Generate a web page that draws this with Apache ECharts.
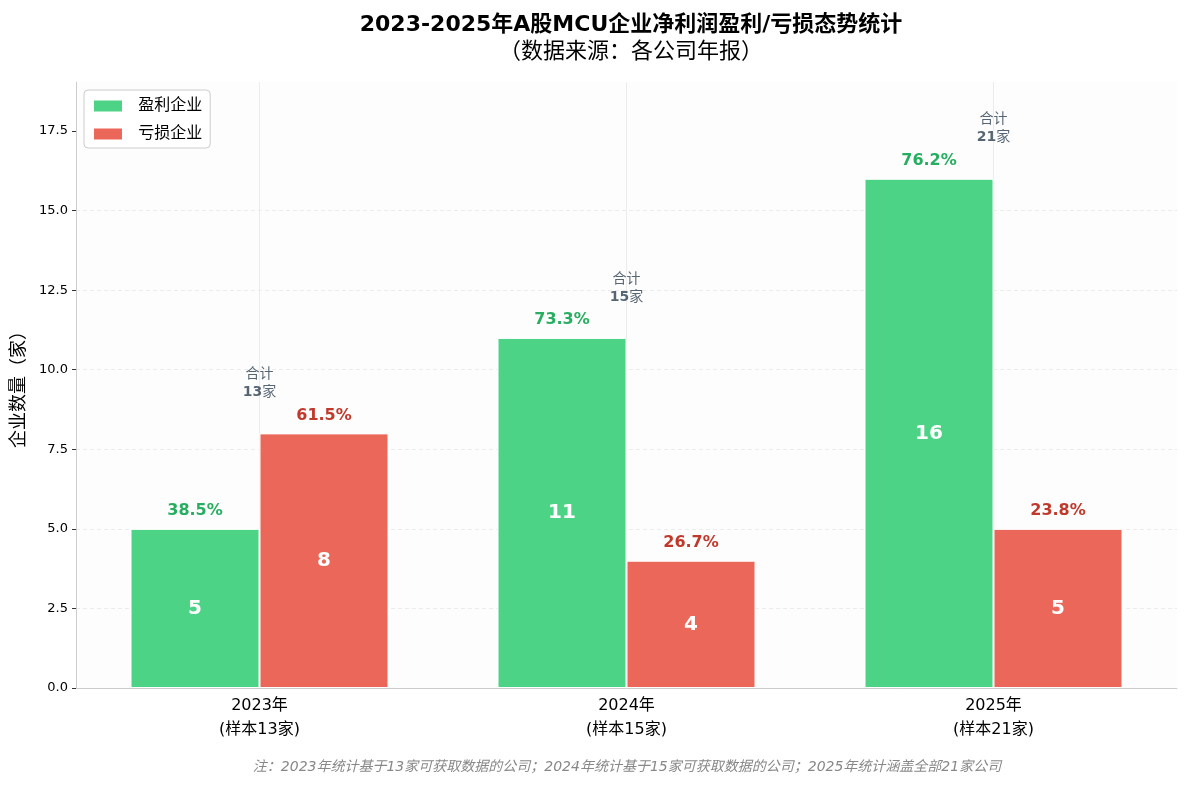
<!DOCTYPE html>
<html><head><meta charset="utf-8">
<script src="https://cdn.jsdelivr.net/npm/echarts@6/dist/echarts.min.js"></script>
<style>html,body{margin:0;padding:0;background:#fff}#c{width:1187px;height:785px}</style>
</head><body><div id="c"></div>
<script>
const years = ['2023年', '2024年', '2025年'];
const samples = [13, 15, 21];
const profitable = [5, 11, 16];
const lossMaking = [8, 4, 5];
const yTicks = [0, 2.5, 5, 7.5, 10, 12.5, 15, 17.5];

const FONT = 'DejaVu Sans, Noto Sans CJK SC, sans-serif';
const totals = profitable.map((v, i) => v + lossMaking[i]);
const tops = profitable.map((v, i) => Math.max(v, lossMaking[i]));
const zeros = profitable.map(() => 0);
const cats = years.map((y, i) => y + '\n(样本' + samples[i] + '家)');

const chart = echarts.init(document.getElementById('c'));
chart.setOption({
  animation: false,
  backgroundColor: '#ffffff',
  textStyle: { fontFamily: FONT },
  title: {
    text: '2023-2025年A股MCU企业净利润盈利/亏损态势统计',
    subtext: '（数据来源：各公司年报）',
    left: 626, top: 9, textAlign: 'center', itemGap: 3,
    textStyle: { fontFamily: FONT, fontSize: 22, fontWeight: 'bold', color: '#000' },
    subtextStyle: { fontFamily: 'Noto Sans CJK SC, sans-serif', fontSize: 22, color: '#000' }
  },
  legend: {
    orient: 'vertical', left: 84, top: 90,
    itemWidth: 30, itemHeight: 13, itemGap: 12, icon: 'rect',
    padding: [8, 8, 6, 8],
    borderColor: '#cccccc', borderWidth: 1, borderRadius: 4,
    backgroundColor: '#ffffff',
    formatter: n => '  ' + n,
    textStyle: { fontFamily: FONT, fontSize: 16, color: '#000' },
    data: ['盈利企业', '亏损企业']
  },
  grid: { left: 76, right: 10, top: 82, bottom: 97, show: true, backgroundColor: '#fdfdfd', borderWidth: 0 },
  xAxis: {
    type: 'category', data: cats,
    axisLine: { lineStyle: { color: '#cccccc', width: 1 } },
    axisTick: { alignWithLabel: true, length: 4, lineStyle: { color: '#333' } },
    axisLabel: { fontFamily: FONT, fontSize: 16, color: '#000', lineHeight: 24, margin: 6 },
    splitLine: { show: false }
  },
  yAxis: {
    type: 'value', min: 0, max: 19.04, interval: 2.5,
    name: '企业数量（家）', nameLocation: 'middle', nameGap: 50,
    nameTextStyle: { fontFamily: 'Noto Sans CJK SC, sans-serif', fontSize: 18, color: '#000' },
    axisLine: { show: true, lineStyle: { color: '#cccccc' } },
    axisTick: { show: true, length: 4, lineStyle: { color: '#333' }, customValues: yTicks },
    axisLabel: {
      fontFamily: FONT, fontSize: 13, color: '#000', margin: 8, customValues: yTicks,
      formatter: v => yTicks.indexOf(v) >= 0 ? v.toFixed(1) : ''
    },
    splitLine: { show: true, showMaxLine: false, lineStyle: { color: '#ececec', type: [4, 3], width: 1 } }
  },
  series: [
    {
      name: '网格', type: 'scatter', data: [], silent: true, z: 1,
      markLine: {
        silent: true, symbol: 'none', label: { show: false }, z: 1,
        lineStyle: { color: '#ececec', type: 'solid', width: 1 },
        data: cats.map(c => ({ xAxis: c }))
      }
    },
    {
      name: '盈利企业', type: 'bar', data: profitable, stack: 'p',
      barWidth: 129, barGap: '0%',
      itemStyle: { color: '#4dd386', borderColor: '#ffffff', borderWidth: 1 },
      label: { show: true, position: 'inside', color: '#fff', fontSize: 20, fontWeight: 'bold', fontFamily: FONT },
      z: 3
    },
    {
      name: '盈利占比', type: 'bar', data: zeros, stack: 'p', barWidth: 129, barGap: '0%',
      itemStyle: { color: 'rgba(0,0,0,0)' }, silent: true,
      label: {
        show: true, position: 'top', distance: 10, color: '#27ae60', fontSize: 16, fontWeight: 'bold', fontFamily: FONT,
        formatter: p => (profitable[p.dataIndex] / totals[p.dataIndex] * 100).toFixed(1) + '%'
      },
      z: 4
    },
    {
      name: '亏损企业', type: 'bar', data: lossMaking, stack: 'l', barWidth: 129, barGap: '0%',
      itemStyle: { color: '#ea6759', borderColor: '#ffffff', borderWidth: 1 },
      label: { show: true, position: 'inside', color: '#fff', fontSize: 20, fontWeight: 'bold', fontFamily: FONT },
      z: 3
    },
    {
      name: '亏损占比', type: 'bar', data: zeros, stack: 'l', barWidth: 129, barGap: '0%',
      itemStyle: { color: 'rgba(0,0,0,0)' }, silent: true,
      label: {
        show: true, position: 'top', distance: 10, color: '#c0392b', fontSize: 16, fontWeight: 'bold', fontFamily: FONT,
        formatter: p => (lossMaking[p.dataIndex] / totals[p.dataIndex] * 100).toFixed(1) + '%'
      },
      z: 4
    },
    {
      name: '合计', type: 'scatter', data: tops, symbolSize: 0, silent: true,
      label: {
        show: true, position: 'top', distance: 32, color: '#2c3e50', fontFamily: FONT,
        formatter: p => '{a|合计}\n{b|' + totals[p.dataIndex] + '}{c|家}',
        rich: {
          a: { fontSize: 14, color: '#2c3e50', lineHeight: 18, fontFamily: FONT },
          b: { fontSize: 14, fontWeight: 'bold', color: '#2c3e50', lineHeight: 18, fontFamily: FONT },
          c: { fontSize: 14, color: '#2c3e50', lineHeight: 18, fontFamily: FONT }
        }
      },
      z: 5
    }
  ],
  graphic: [{
    type: 'text', x: 627, y: 760,
    style: {
      text: '注：2023年统计基于13家可获取数据的公司；2024年统计基于15家可获取数据的公司；2025年统计涵盖全部21家公司',
      fill: '#888888', fontSize: 14, fontStyle: 'italic', fontFamily: FONT, textAlign: 'center'
    }
  }]
});
</script></body></html>
